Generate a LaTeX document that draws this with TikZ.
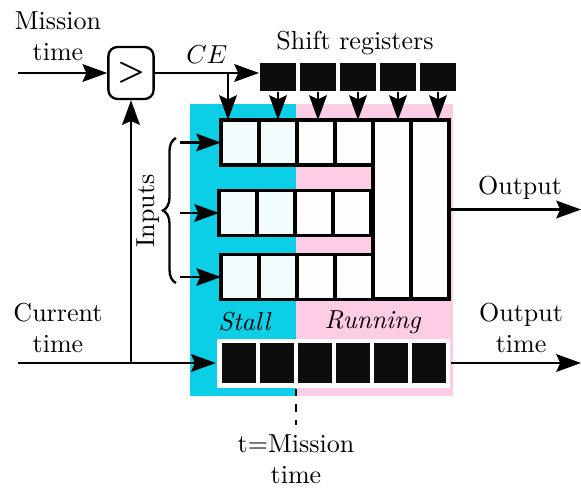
\documentclass[tikz,border=0pt]{standalone}
\usetikzlibrary{positioning,arrows.meta,decorations.pathreplacing}
\definecolor{stallcyan}{RGB}{11,207,230}
\definecolor{runpink}{RGB}{255,204,230}
\newdimen\px
\px=0.3846pt
\tikzset{
    >={Stealth[length=9.5pt,width=6.8pt,inset=1.5pt]},
    cell/.style={draw, line width=1.3pt, fill=white, fill opacity=0.95, inner sep=0pt, outer sep=0pt, minimum width=38\px, minimum height=45\px},
    tallcell/.style={cell, minimum height=179\px},
    shiftreg/.style={draw=white, line width=0.4pt, fill=black, fill opacity=0.95, inner sep=0pt, outer sep=0pt, minimum width=38\px, minimum height=30\px},
    timecell/.style={shiftreg, line width=0.9pt, minimum width=36\px, minimum height=43\px},
}
\begin{document}
\begin{tikzpicture}[x=\px, y=-\px, line width=0.9pt]
    \useasboundingbox (0,0) rectangle (581,490);
    \fill[stallcyan] (190,104) rectangle (296,396);
    \fill[runpink] (296,104) rectangle (453,396);

    \node[draw, rounded corners=3.5pt, minimum width=42\px, minimum height=52\px, font=\sffamily\bfseries\large] (cmp) at (131,73) {>};
    \node[align=center] (mtl) at (58,36) {Mission\\time};
    \node[align=center] (ctl) at (58,328) {Current\\time};

    \node[shiftreg] (s1) at (278,77) {};
    \node[shiftreg, right=2\px of s1] (s2) {};
    \node[shiftreg, right=2\px of s2] (s3) {};
    \node[shiftreg, right=2\px of s3] (s4) {};
    \node[shiftreg, right=2\px of s4] (s5) {};
    \node (srl) at (355,43) {Shift registers};

    \node[cell] (a1) at (240,142.5) {};
    \node[cell, right=0pt of a1] (a2) {};
    \node[cell, right=0pt of a2] (a3) {};
    \node[cell, right=0pt of a3] (a4) {};
    \node[tallcell, anchor=north west] (o1) at (a4.north east) {};
    \node[tallcell, right=0pt of o1] (o2) {};
    \node[cell] (b1) at (238,213) {};
    \node[cell, right=0pt of b1] (b2) {};
    \node[cell, right=0pt of b2] (b3) {};
    \node[cell, right=0pt of b3] (b4) {};
    \node[cell] (c1) at (240,277) {};
    \node[cell, right=0pt of c1] (c2) {};
    \node[cell, right=0pt of c2] (c3) {};
    \node[cell, right=0pt of c3] (c4) {};

    \node[fill=white, inner sep=0pt, minimum width=233\px, minimum height=49\px] (tframe) at (333.5,363) {};
    \node[timecell] (t1) at (239,363) {};
    \node[timecell, right=2\px of t1] (t2) {};
    \node[timecell, right=2\px of t2] (t3) {};
    \node[timecell, right=2\px of t3] (t4) {};
    \node[timecell, right=2\px of t4] (t5) {};
    \node[timecell, right=2\px of t5] (t6) {};

    \node (stl) at (245,322) {\textit{Stall}};
    \node (rnl) at (373,322) {\textit{Running}};
    \node[align=center, anchor=north] (tml) at (296,425) {t=Mission\\time};

    \coordinate (mt) at (18,73);
    \coordinate (ce) at (228,73);
    \coordinate (ct) at (18,363);
    \coordinate (ia) at (180,0);
    \coordinate (out) at (581,0);

    \draw[->] (mt) -- (cmp);
    \draw[->] (cmp) -- node[above] {$CE$} (cmp -| s1.west);
    \draw[->] (ce) -- (ce |- a1.north);
    \draw[->] (s1) -- (s1 |- a1.north);
    \draw[->] (s2) -- (s2 |- a1.north);
    \draw[->] (s3) -- (s3 |- a1.north);
    \draw[->] (s4) -- (s4 |- a1.north);
    \draw[->] (s5) -- (s5 |- a1.north);
    \draw[->] (a1.west -| ia) -- (a1.west);
    \draw[->] (b1.west -| ia) -- (b1.west);
    \draw[->] (c1.west -| ia) -- (c1.west);
    \draw[decorate, decoration={brace, amplitude=5pt}] (176,283) -- (176,138);
    \node[rotate=90, anchor=south, inner sep=1pt] (inl) at (163,211) {Inputs};
    \draw[->] (ct) -- (tframe.west);
    \draw[->] (ct -| cmp) -- (cmp.south);
    \draw[->] (o2.east) -- node[above, xshift=5\px] {Output} (o2.east -| out);
    \draw[->] (tframe.east) -- node[above, align=center, xshift=5\px] {Output\\time} (tframe.east -| out);
    \draw[dashed, line width=0.8pt] (tframe.south -| tml) -- (tml.north);
\end{tikzpicture}
\end{document}
